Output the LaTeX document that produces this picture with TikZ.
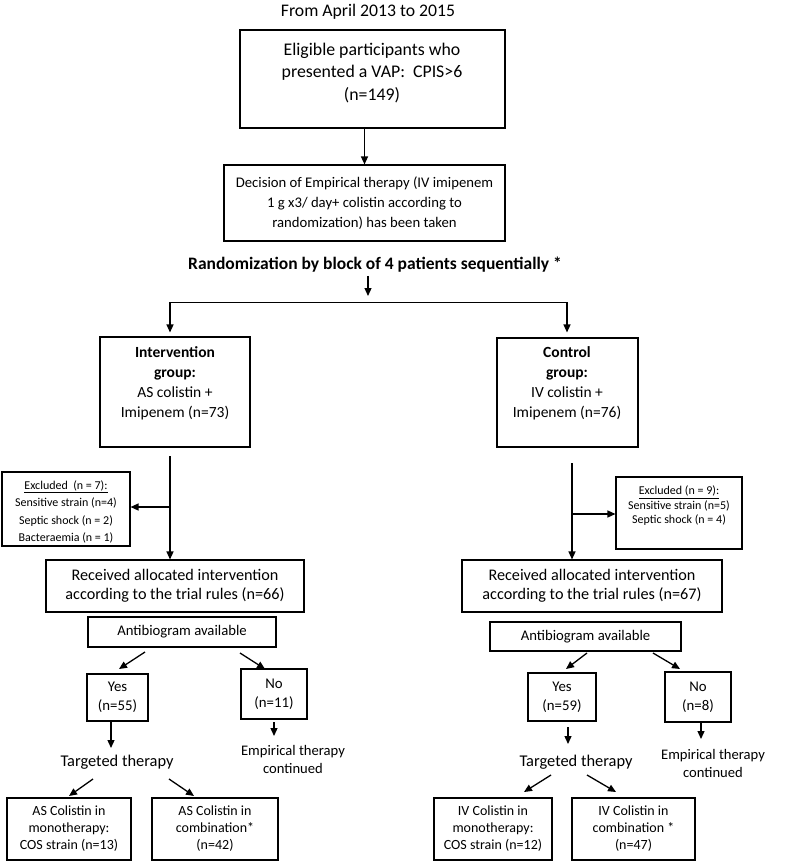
\documentclass[tikz,border=0pt]{standalone}
\usepackage{fontspec}
\setmainfont{Carlito}
\usetikzlibrary{arrows.meta}
\tikzset{
  box/.style={draw, line width=1.1pt, rectangle, inner sep=0pt, align=center},
  txt/.style={inner sep=0pt, align=center},
  arr/.style={-{Triangle[length=8pt,width=7pt]}, line width=1.3pt},
  ln/.style={line width=1pt},
}
\newcommand{\fs}[2]{\fontsize{#1}{#2}\selectfont}
\begin{document}
\begin{tikzpicture}[x=1pt,y=-1pt]
\useasboundingbox (0,0) rectangle (785,866);
% title
\node[txt, font=\fs{17.7}{19}] (title) at (368,12) {From April 2013 to 2015};
% box 1
\node[box, minimum width=265pt, minimum height=98pt] (b1) at (372.5,79) {};
\node[txt, font=\fs{17.8}{22.5}] (b1t) at (372,73) {Eligible participants who\\presented a VAP:\ \ CPIS>6\\(n=149)};
% box 2
\node[box, minimum width=281pt, minimum height=76pt, font=\fs{14.7}{20}] (b2) at (364.5,203) {Decision of Empirical therapy (IV imipenem\\1 g x3/ day+ colistin according to\\randomization) has been taken};
\draw[arr] (b1.south -| b2.north) -- (b2.north);
% randomization
\node[txt, font=\bfseries\fs{17.5}{18}] (rand) at (375,265) {Randomization by block of 4 patients sequentially *};
\coordinate (top) at (368,302);
\coordinate (hl) at (170,302);
\coordinate (hr) at (567,302);
\draw[arr] ([yshift=-3pt]rand.south -| top) -- ([yshift=6pt]top);
\draw[ln] (hl) -- (hr);
% groups
\node[box, minimum width=150pt, minimum height=110pt] (ig) at (175,392) {};
\node[txt, font=\fs{15.5}{20}] (igt) at (175,383) {\textbf{Intervention}\\\textbf{group:}\\AS colistin +\\Imipenem (n=73)};
\node[box, minimum width=141pt, minimum height=109pt] (cg) at (567.5,392.5) {};
\node[txt, font=\fs{15.5}{20}] (cgt) at (567,383) {\textbf{Control}\\\textbf{group:}\\IV colistin +\\Imipenem (n=76)};
\draw[arr, shorten >=4pt] (hl) -- (hl |- ig.north);
\draw[arr, shorten >=5pt] (hr) -- (hr |- cg.north);
% exclusions
\node[box, minimum width=128pt, minimum height=74pt] (el) at (66,509) {};
\node[txt, font=\fs{12}{17.5}] (elt) at (66,512) {\underline{Excluded\ \ (n = 7):}\\Sensitive strain (n=4)\\Septic shock (n = 2)\\Bacteraemia (n = 1)};
\node[box, minimum width=126pt, minimum height=72pt] (er) at (679,513) {};
\node[txt, font=\fs{12}{14.5}] (ert) at (679,506) {\underline{Excluded (n = 9):}\\Sensitive strain (n=5)\\Septic shock (n = 4)};
% received
\node[box, minimum width=258pt, minimum height=52pt, font=\fs{16.2}{19}] (rl) at (175,586) {Received allocated intervention\\according to the trial rules (n=66)};
\node[box, minimum width=260pt, minimum height=52pt, font=\fs{16.2}{19}] (rr) at (592,586) {Received allocated intervention\\according to the trial rules (n=67)};
\coordinate (l1) at (170,456);
\coordinate (lj) at (170,507);
\coordinate (r1) at (572,463);
\coordinate (rj) at (572,514);
\draw[arr] (l1) -- (l1 |- rl.north);
\draw[arr] (lj) -- (lj -| el.east);
\draw[arr] (r1) -- (r1 |- rr.north);
\draw[arr] (rj) -- (rj -| er.west);
% antibiogram
\node[box, minimum width=188pt, minimum height=30pt, font=\fs{14.7}{15}] (al) at (182,632) {Antibiogram available};
\node[box, minimum width=191pt, minimum height=29pt, font=\fs{14.7}{15}] (ar) at (585.5,636.5) {Antibiogram available};
% yes / no left
\node[box, minimum width=61pt, minimum height=47pt, font=\fs{14.8}{19}] (yl) at (117.5,697.5) {Yes\\(n=55)};
\node[box, minimum width=66pt, minimum height=50pt, font=\fs{14.8}{19}] (nl) at (274,694) {No\\(n=11)};
\coordinate (a1s) at (145,652); \coordinate (a1e) at (119,669);
\coordinate (a2s) at (240,653); \coordinate (a2e) at (265,669);
\draw[arr] (a1s) -- (a1e);
\draw[arr] (a2s) -- (a2e);
\node[txt, font=\fs{16.4}{18}] (tl) at (117,762) {Targeted therapy};
\node[txt, font=\fs{14.6}{18}] (el2) at (293,759) {Empirical therapy\\continued};
\coordinate (a3s) at (111,721); \coordinate (a3e) at (111,748);
\coordinate (a4s) at (274,722); \coordinate (a4e) at (274,736);
\draw[arr] (a3s) -- (a3e);
\draw[arr] (a4s) -- (a4e);
\coordinate (a5s) at (93,779); \coordinate (a5e) at (69,796);
\coordinate (a6s) at (169,779); \coordinate (a6e) at (194,796);
\draw[arr] (a5s) -- (a5e);
\draw[arr] (a6s) -- (a6e);
\node[box, minimum width=124pt, minimum height=62pt, font=\fs{14}{17}] (lm) at (69,829) {AS Colistin in\\monotherapy:\\COS strain (n=13)};
\node[box, minimum width=126pt, minimum height=62pt, font=\fs{14}{17}] (lc) at (215,829) {AS Colistin in\\combination*\\(n=42)};
% yes / no right
\node[box, minimum width=68pt, minimum height=48pt, font=\fs{14.8}{19}] (yr) at (562,697) {Yes\\(n=59)};
\node[box, minimum width=66pt, minimum height=50pt, font=\fs{14.8}{19}] (nr) at (698,697) {No\\(n=8)};
\coordinate (b1s) at (587,653); \coordinate (b1e) at (566,669);
\coordinate (b2s) at (653,653); \coordinate (b2e) at (680,669);
\draw[arr] (b1s) -- (b1e);
\draw[arr] (b2s) -- (b2e);
\node[txt, font=\fs{16.4}{18}] (tr) at (576,762) {Targeted therapy};
\node[txt, font=\fs{14.6}{18}] (er2) at (713,763) {Empirical therapy\\continued};
\coordinate (b3s) at (568,727); \coordinate (b3e) at (568,744);
\coordinate (b4s) at (701,723); \coordinate (b4e) at (701,739);
\draw[arr] (b3s) -- (b3e);
\draw[arr] (b4s) -- (b4e);
\coordinate (b5s) at (551,775); \coordinate (b5e) at (524,792);
\coordinate (b6s) at (587,775); \coordinate (b6e) at (616,792);
\draw[arr] (b5s) -- (b5e);
\draw[arr] (b6s) -- (b6e);
\node[box, minimum width=118pt, minimum height=62pt, font=\fs{14}{17}] (rm) at (493,829) {IV Colistin in\\monotherapy:\\COS strain (n=12)};
\node[box, minimum width=123pt, minimum height=62pt, font=\fs{14}{17}] (rc) at (633.5,829) {IV Colistin in\\combination *\\(n=47)};
\end{tikzpicture}
\end{document}
